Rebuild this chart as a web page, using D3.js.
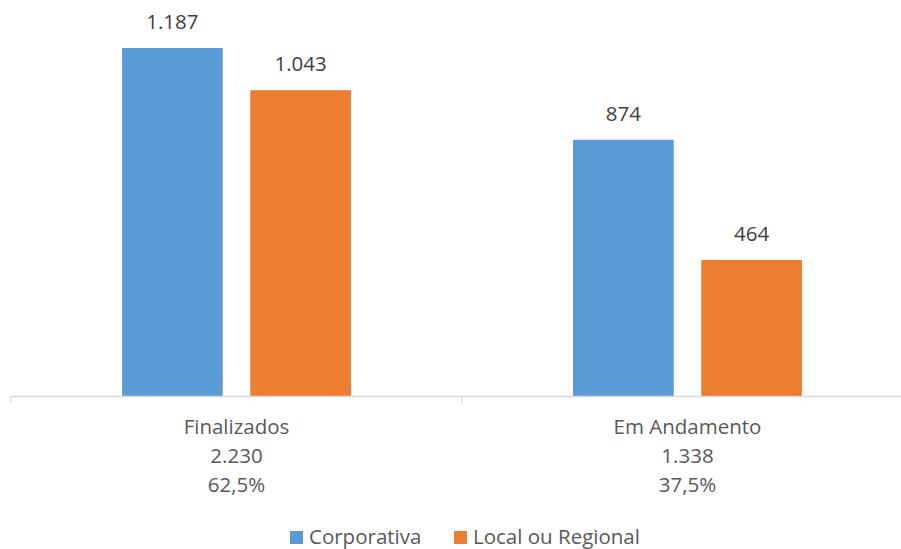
<!DOCTYPE html>
<html>
<head>
<meta charset="utf-8">
<script src="https://cdn.jsdelivr.net/npm/d3@7"></script>
<style>
  body { margin: 0; background: #fff; }
  svg { display: block; font-family: "Open Sans", Lato, sans-serif; }
</style>
</head>
<body>
<div id="chart"></div>
<script>
const categories = ["Finalizados", "Em Andamento"];
const categoryTotals = ["2.230", "1.338"];
const categoryShares = ["62,5%", "37,5%"];
const seriesNames = ["Corporativa", "Local ou Regional"];
const corporativa = [1187, 874];
const localRegional = [1043, 464];
const seriesColors = ["#5B9BD5", "#ED7D31"];

const fmt = d3.formatLocale({ decimal: ",", thousands: ".", grouping: [3], currency: ["", ""] }).format(",d");

const containerWidth = 901,
  containerHeight = 549,
  baseline = 396,
  fontSize = "20.5px";

const svg = d3
  .select("#chart")
  .append("svg")
  .attr("width", containerWidth)
  .attr("height", containerHeight);

const xScale = d3.scaleBand().domain(categories).range([11, 913]);
const xInner = d3
  .scaleBand()
  .domain(seriesNames)
  .range([0, xScale.bandwidth()])
  .paddingInner(0.2145)
  .paddingOuter(0.866);

const yScale = d3.scaleLinear().domain([0, 1187]).range([baseline, 48]);

const rows = categories.map((c, i) => ({
  category: c,
  values: [corporativa[i], localRegional[i]],
}));

const groups = svg
  .append("g")
  .selectAll("g")
  .data(rows)
  .enter()
  .append("g")
  .attr("transform", (d) => `translate(${xScale(d.category)}, 0)`);

groups
  .selectAll("rect")
  .data((d) => d.values.map((v, j) => ({ name: seriesNames[j], value: v, j })))
  .enter()
  .append("rect")
  .attr("x", (d) => xInner(d.name))
  .attr("y", (d) => yScale(d.value))
  .attr("width", xInner.bandwidth())
  .attr("height", (d) => baseline - yScale(d.value))
  .attr("fill", (d) => seriesColors[d.j]);

groups
  .selectAll("text.value")
  .data((d) => d.values.map((v, j) => ({ name: seriesNames[j], value: v })))
  .enter()
  .append("text")
  .attr("class", "value")
  .attr("x", (d) => xInner(d.name) + xInner.bandwidth() / 2)
  .attr("y", (d) => yScale(d.value) - 19)
  .attr("text-anchor", "middle")
  .attr("font-size", fontSize)
  .attr("fill", "#404040")
  .text((d) => fmt(d.value));

// axis line with ticks between categories
const xAxis = d3.axisBottom(xScale).tickSize(0).tickFormat("");
const axisGroup = svg
  .append("g")
  .attr("transform", `translate(0, ${baseline})`)
  .call(xAxis);
axisGroup.select(".domain").attr("stroke", "#d9d9d9").attr("stroke-width", 1.3);

svg
  .append("g")
  .selectAll("line")
  .data([11, ...categories.map((c) => xScale(c) + xScale.bandwidth())])
  .enter()
  .append("line")
  .attr("x1", (d) => d)
  .attr("x2", (d) => d)
  .attr("y1", baseline)
  .attr("y2", baseline + 7)
  .attr("stroke", "#d9d9d9")
  .attr("stroke-width", 1.3);

const catLabels = svg
  .append("g")
  .selectAll("text")
  .data(categories)
  .enter()
  .append("text")
  .attr("x", (d) => xScale(d) + xScale.bandwidth() / 2)
  .attr("y", 434)
  .attr("text-anchor", "middle")
  .attr("font-size", fontSize)
  .attr("fill", "#595959");

catLabels.append("tspan").text((d) => d);
catLabels
  .append("tspan")
  .attr("x", (d) => xScale(d) + xScale.bandwidth() / 2)
  .attr("dy", 29)
  .text((d, i) => categoryTotals[i]);
catLabels
  .append("tspan")
  .attr("x", (d) => xScale(d) + xScale.bandwidth() / 2)
  .attr("dy", 29)
  .text((d, i) => categoryShares[i]);

// legend
const legendX = [290, 454];
const legend = svg
  .selectAll(".legend")
  .data(seriesNames)
  .enter()
  .append("g")
  .attr("class", "legend")
  .attr("transform", (d, i) => `translate(${legendX[i]}, 531)`);

legend
  .append("rect")
  .attr("width", 13)
  .attr("height", 13)
  .attr("fill", (d, i) => seriesColors[i]);

legend
  .append("text")
  .attr("x", 19)
  .attr("y", 13)
  .attr("font-size", fontSize)
  .attr("fill", "#595959")
  .text((d) => d);
</script>
</body>
</html>
